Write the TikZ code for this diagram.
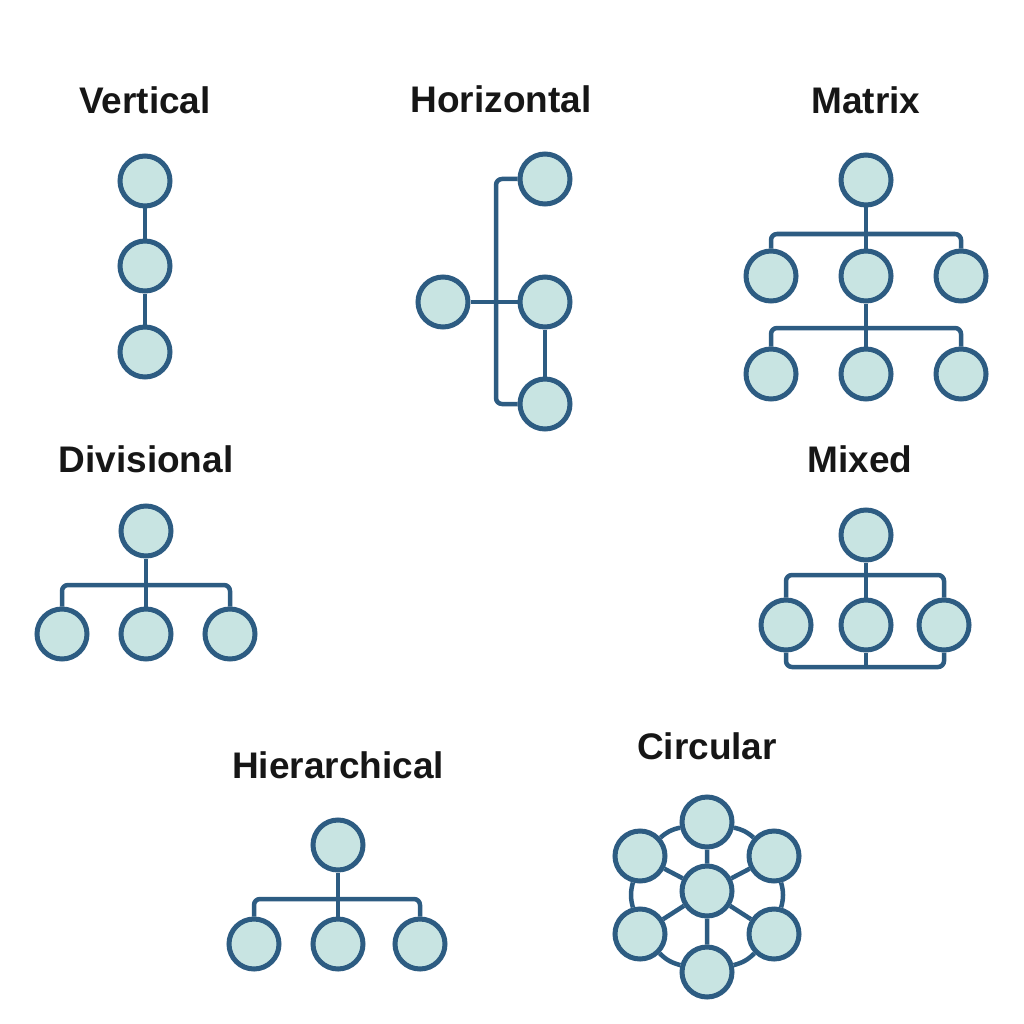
\documentclass[tikz,border=0pt]{standalone}
\usepackage{fontspec}
\setmainfont{Liberation Sans}
\usepackage[dvipsnames]{xcolor}
\definecolor{unitedge}{HTML}{2D5C82}
\definecolor{unitfill}{HTML}{C8E4E2}
\definecolor{titleink}{HTML}{161616}

\begin{document}
\begin{tikzpicture}[x=1pt,y=-1pt,-,thick,
    unit/.style={circle,draw=unitedge,fill=unitfill,line width=5pt,minimum size=50pt,inner sep=0pt},
    link/.style={draw=unitedge,line width=4.5pt,rounded corners=6pt},
    title/.style={font=\bfseries\fontsize{37}{44}\selectfont,text=titleink}]
                \useasboundingbox (0,0) rectangle (1024,1024);

                % Vertical
                \node[title] (tv) at (145,100) {Vertical};
                \node[unit] (v1) at (145,181) {};
                \node[unit] (v2) at (145,266) {};
                \node[unit] (v3) at (145,352) {};
                \path[link] (v1) -- (v2) (v2) -- (v3);

                % Horizontal
                \node[title] (th) at (501,99) {Horizontal};
                \node[unit] (h1) at (545,179) {};
                \node[unit] (h0) at (443,302) {};
                \node[unit] (h2) at (545,302) {};
                \node[unit] (h3) at (545,404) {};
                \coordinate (hj) at (496,302);
                \path[link] (h1) -| (hj) |- (h3);
                \path[link] (h0) -- (h2) (h2) -- (h3);

                % Matrix
                \node[title] (tm) at (866,100) {Matrix};
                \node[unit] (m0) at (866,180) {};
                \node[unit] (m1) at (771,276) {};
                \node[unit] (m2) at (866,276) {};
                \node[unit] (m3) at (961,276) {};
                \node[unit] (m4) at (771,374) {};
                \node[unit] (m5) at (866,374) {};
                \node[unit] (m6) at (961,374) {};
                \coordinate (mj) at (866,234);
                \coordinate (mk) at (866,328);
                \path[link] (m0) -- (m2) (m2) -- (m5);
                \path[link] (m1) |- (mj) -| (m3);
                \path[link] (m4) |- (mk) -| (m6);

                % Divisional
                \node[title] (td) at (146,459) {Divisional};
                \node[unit] (d0) at (146,531) {};
                \node[unit] (d1) at (62,634) {};
                \node[unit] (d2) at (146,634) {};
                \node[unit] (d3) at (230,634) {};
                \coordinate (dj) at (146,585);
                \path[link] (d0) -- (d2);
                \path[link] (d1) |- (dj) -| (d3);

                % Mixed
                \node[title] (tx) at (860,459) {Mixed};
                \node[unit] (x0) at (866,535) {};
                \node[unit] (x1) at (786,625) {};
                \node[unit] (x2) at (866,625) {};
                \node[unit] (x3) at (944,625) {};
                \coordinate (xj) at (866,575);
                \coordinate (xk) at (866,667);
                \path[link] (x0) -- (x2) (x2) -- (xk);
                \path[link] (x1) |- (xj) -| (x3);
                \path[link] (x1) |- (xk) -| (x3);

                % Hierarchical
                \node[title] (tr) at (338,765) {Hierarchical};
                \node[unit] (r0) at (338,845) {};
                \node[unit] (r1) at (254,944) {};
                \node[unit] (r2) at (338,944) {};
                \node[unit] (r3) at (420,944) {};
                \coordinate (rj) at (338,899);
                \path[link] (r0) -- (r2);
                \path[link] (r1) |- (rj) -| (r3);

                % Circular
                \node[title] (tc) at (707,746) {Circular};
                \node[unit] (c0) at (707,891) {};
                \node[unit] (c1) at (707,822) {};
                \node[unit] (c2) at (640,856) {};
                \node[unit] (c3) at (640,934) {};
                \node[unit] (c4) at (707,972) {};
                \node[unit] (c5) at (774,934) {};
                \node[unit] (c6) at (774,856) {};
                \path[link] (c0) -- (c1) (c0) -- (c2) (c0) -- (c3)
                    (c0) -- (c4) (c0) -- (c5) (c0) -- (c6);
                \path[link,bend right=15]
                    (c1) edge[link] (c2) (c2) edge[link] (c3) (c3) edge[link] (c4)
                    (c4) edge[link] (c5) (c5) edge[link] (c6) (c6) edge[link] (c1);
            \end{tikzpicture}
\end{document}
